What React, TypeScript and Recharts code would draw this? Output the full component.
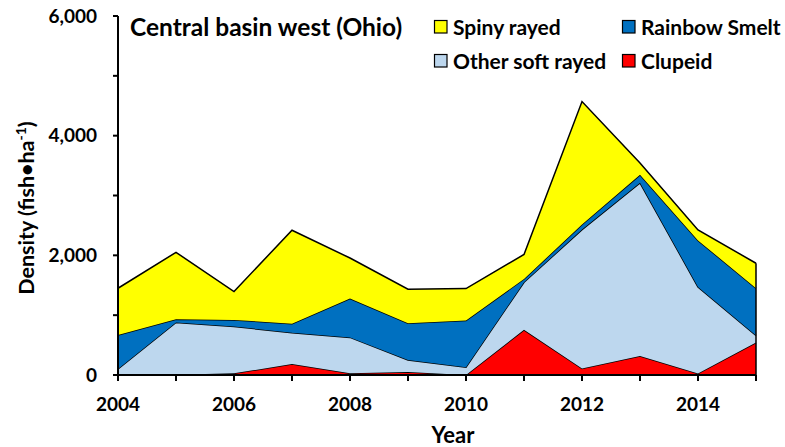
import React from 'react';
import { AreaChart, Area, XAxis, YAxis, ReferenceLine } from 'recharts';

const years = [2004, 2005, 2006, 2007, 2008, 2009, 2010, 2011, 2012, 2013, 2014, 2015];
const clupeid = [0, 5, 28, 183, 28, 50, 0, 755, 108, 317, 25, 542];
const otherSoft = [100, 873, 782, 525, 600, 200, 130, 795, 2322, 2895, 1447, 118];
const smelt = [567, 55, 110, 150, 650, 615, 782, 55, 85, 133, 778, 790];
const spiny = [783, 1117, 475, 1562, 677, 570, 533, 410, 2055, 200, 175, 418];
const yTicks = [0, 1000, 2000, 3000, 4000, 5000, 6000];

const data = years.map((y, i) => ({
  year: y,
  clupeid: clupeid[i],
  otherSoft: otherSoft[i],
  smelt: smelt[i],
  spiny: spiny[i],
}));

const lastIdx = years.length - 1;
const lastTotal = clupeid[lastIdx] + otherSoft[lastIdx] + smelt[lastIdx] + spiny[lastIdx];

const FONT = 'Lato, "Open Sans", sans-serif';

const legendItems = [
  { label: 'Spiny rayed', color: '#FFFF00', x: 434, y: 27 },
  { label: 'Rainbow Smelt', color: '#0070C0', x: 622, y: 27 },
  { label: 'Other soft rayed', color: '#BDD7EE', x: 434, y: 61 },
  { label: 'Clupeid', color: '#FF0000', x: 622, y: 61 },
];

export default function App() {
  return (
    <div style={{ position: 'absolute', left: 0, top: 0, width: 785, height: 447, background: '#fff' }}>
      <AreaChart
        width={785}
        height={447}
        data={data}
        margin={{ top: 16, right: 29, bottom: 0, left: 0 }}
      >
        <XAxis
          dataKey="year"
          type="number"
          domain={[2004, 2015]}
          ticks={years}
          interval={0}
          height={72}
          tickSize={6}
          tickMargin={17}
          axisLine={{ stroke: '#000', strokeWidth: 2 }}
          tickLine={{ stroke: '#000', strokeWidth: 2 }}
          tick={{ fill: '#000', fontSize: 19, fontWeight: 700, fontFamily: FONT }}
          tickFormatter={(v: number) => (v % 2 === 0 ? String(v) : '')}
        />
        <YAxis
          type="number"
          domain={[0, 6000]}
          ticks={yTicks}
          interval={0}
          width={118}
          tickSize={5}
          tickMargin={16}
          axisLine={{ stroke: '#000', strokeWidth: 2 }}
          tickLine={{ stroke: '#000', strokeWidth: 2 }}
          tick={{ fill: '#000', fontSize: 19, fontWeight: 700, fontFamily: FONT }}
          tickFormatter={(v: number) => (v % 2000 === 0 ? v.toLocaleString('en-US') : '')}
        />
        <Area type="linear" dataKey="clupeid" stackId="1" stroke="#000" strokeWidth={1.5} fill="#FF0000" fillOpacity={1} isAnimationActive={false} />
        <Area type="linear" dataKey="otherSoft" stackId="1" stroke="#000" strokeWidth={1.5} fill="#BDD7EE" fillOpacity={1} isAnimationActive={false} />
        <Area type="linear" dataKey="smelt" stackId="1" stroke="#000" strokeWidth={1.5} fill="#0070C0" fillOpacity={1} isAnimationActive={false} />
        <Area type="linear" dataKey="spiny" stackId="1" stroke="#000" strokeWidth={1.5} fill="#FFFF00" fillOpacity={1} isAnimationActive={false} />
        <ReferenceLine
          segment={[{ x: 2015, y: 0 }, { x: 2015, y: lastTotal }]}
          stroke="#000"
          strokeWidth={1.5}
        />
      </AreaChart>
      <svg
        width={785}
        height={447}
        style={{ position: 'absolute', left: 0, top: 0, pointerEvents: 'none' }}
        fontFamily={FONT}
        fontWeight={700}
      >
        <text x={130} y={36} fontSize={24.5} fill="#000">Central basin west (Ohio)</text>
        {legendItems.map((it) => (
          <g key={it.label}>
            <rect x={it.x + 0.5} y={it.y - 6.5} width={12.5} height={12.5} fill={it.color} stroke="#000" strokeWidth={1.2} />
            <text x={it.x + 19} y={it.y + 7.5} fontSize={21} fill="#000">{it.label}</text>
          </g>
        ))}
        <text x={453} y={443} fontSize={22} fill="#000" textAnchor="middle">Year</text>
        <text transform="translate(34,208) rotate(-90)" fontSize={21.5} fill="#000" textAnchor="middle">
          Density (fish•ha<tspan dy={-8} fontSize={14}>-1</tspan><tspan dy={8}>)</tspan>
        </text>
      </svg>
    </div>
  );
}
